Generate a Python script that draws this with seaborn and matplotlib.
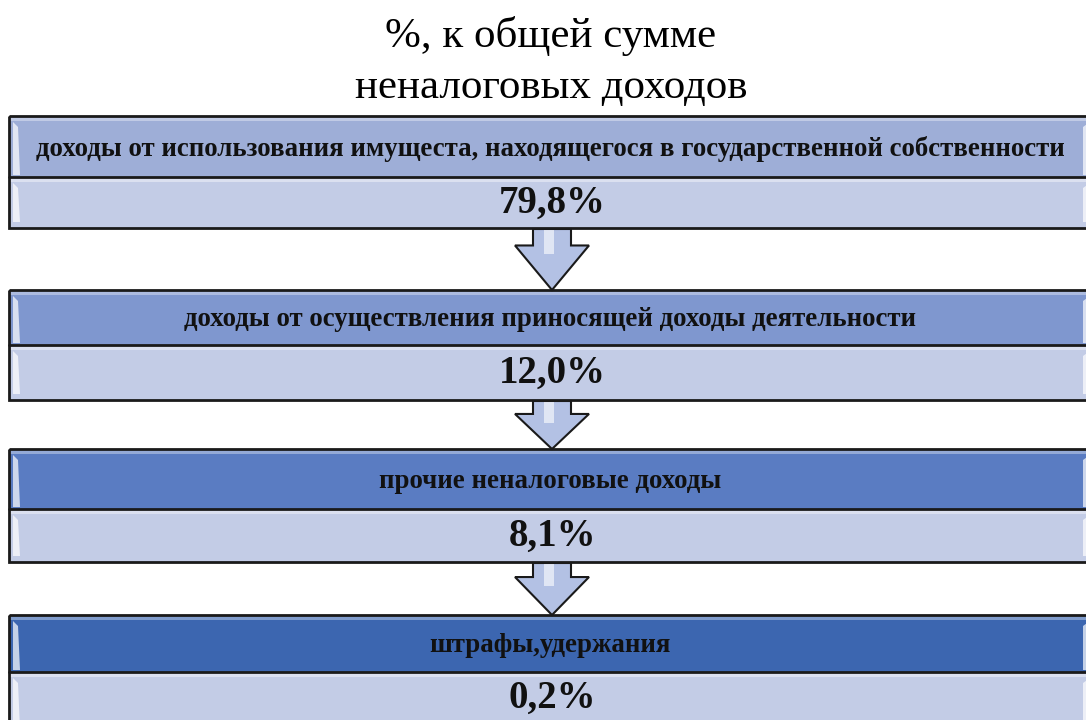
import numpy as np
import matplotlib
matplotlib.use("Agg")
import matplotlib.pyplot as plt
import seaborn as sns
from matplotlib.patches import Rectangle, Polygon

# ---- data ----
title_lines = ["%, к общей сумме", "неналоговых доходов"]
categories = [
    "доходы от использования имущеста, находящегося в государственной собственности",
    "доходы от осуществления приносящей доходы деятельности",
    "прочие неналоговые доходы",
    "штрафы,удержания",
]
shares = [79.8, 12.0, 8.1, 0.2]

# ---- style / layout ----
sns.set_theme(style="white")
plt.rcParams["font.family"] = ["Liberation Serif", "DejaVu Serif"]

header_colors = ["#9eaed7", "#7f97cf", "#5a7cc2", "#3c66b0"]
value_color = "#c3cce6"
# (top, divider, bottom) in pixel rows
box_rows = [(116, 177, 228), (290, 345, 400), (449, 509, 562), (615, 672, 735)]
x_left, x_right = 9, 1092

fig = plt.figure(figsize=(10.86, 7.2), dpi=100)
ax = fig.add_axes([0, 0, 1, 1])
ax.set_xlim(0, 1086)
ax.set_ylim(720, 0)
ax.axis("off")

ax.text(551, 36, title_lines[0], ha="center", va="center", fontsize=31, color="black")
ax.text(551, 88, title_lines[1], ha="center", va="center", fontsize=31, color="black")


def lighten(c, f):
    rgb = np.array(matplotlib.colors.to_rgb(c))
    return tuple(rgb + (1 - rgb) * f)


for (top, mid, bot), cat, val, hc in zip(box_rows, categories, shares, header_colors):
    # header band
    ax.add_patch(Rectangle((x_left, top), x_right - x_left, mid - top,
                           facecolor=hc, edgecolor="none", zorder=1))
    ax.add_patch(Rectangle((x_left, top), x_right - x_left, 5,
                           facecolor=lighten(hc, 0.35), edgecolor="none", zorder=2))
    # value band
    ax.add_patch(Rectangle((x_left, mid), x_right - x_left, bot - mid,
                           facecolor=value_color, edgecolor="none", zorder=1))
    ax.add_patch(Rectangle((x_left, mid), x_right - x_left, 5,
                           facecolor=lighten(value_color, 0.4), edgecolor="none", zorder=2))
    # bevel highlights on left / right
    for y0, y1 in ((top + 6, mid - 2), (mid + 6, bot - 6)):
        ax.add_patch(Polygon([(13, y0), (18, y0 + 5), (20, y1), (13, y1)],
                             closed=True, facecolor="white", alpha=0.7,
                             edgecolor="none", zorder=3))
        ax.add_patch(Polygon([(1083, y0 + 5), (1090, y0), (1090, y1), (1083, y1)],
                             closed=True, facecolor="white", alpha=0.7,
                             edgecolor="none", zorder=3))
    # outlines
    ax.add_patch(Rectangle((x_left, top), x_right - x_left, bot - top,
                           facecolor="none", edgecolor="#1a1a1a", lw=2, zorder=4))
    ax.plot([x_left, x_right], [mid, mid], color="#1a1a1a", lw=2, zorder=4)
    # texts
    ax.text(550, (top + mid) / 2 + 2, cat, ha="center", va="center",
            fontsize=19.4, fontweight="bold", color="#111111", zorder=5)
    ax.text(552, (mid + min(bot, 722)) / 2 + 1, f"{val:.1f}".replace(".", ",") + "%",
            ha="center", va="center", fontsize=28, fontweight="bold",
            color="#111111", zorder=5)

# arrows between boxes
cx = 552
for i in range(len(box_rows) - 1):
    y0 = box_rows[i][2] + 1
    y1 = box_rows[i + 1][0]
    head_start = y0 + (y1 - y0) * 0.27
    pts = [(cx - 19, y0), (cx + 19, y0), (cx + 19, head_start), (cx + 37, head_start),
           (cx, y1), (cx - 37, head_start), (cx - 19, head_start)]
    ax.add_patch(Polygon(pts, closed=True, facecolor="#b3c1e4", edgecolor="#1a1a1a",
                         lw=1.5, zorder=3))
    ax.add_patch(Rectangle((cx - 8, y0 + 1), 10, head_start - y0 + 8,
                           facecolor="white", alpha=0.6, edgecolor="none", zorder=4))

fig.savefig("out.png", dpi=100)
